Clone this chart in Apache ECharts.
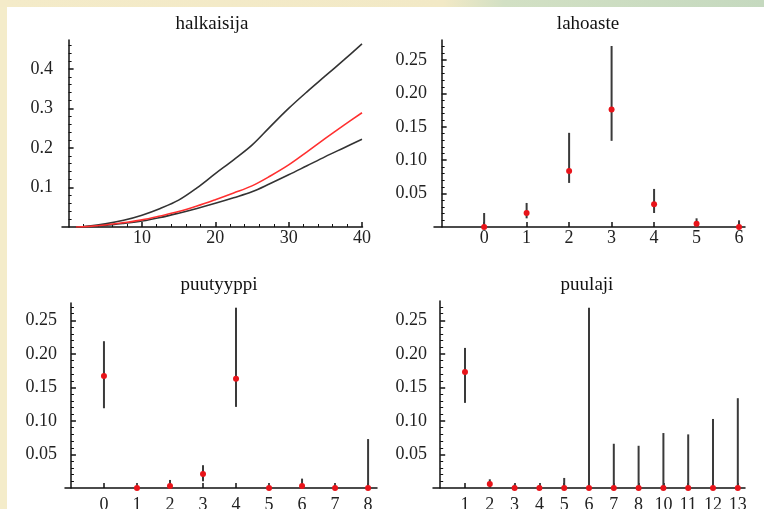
<!DOCTYPE html>
<html><head><meta charset="utf-8">
<script src="https://cdn.jsdelivr.net/npm/echarts@6/dist/echarts.min.js"></script>
<style>
html,body{margin:0;padding:0;}
#bg{position:absolute;left:0;top:0;width:764px;height:509px;background:#f4ecca;}
#topstrip{position:absolute;left:0;top:0;width:764px;height:7px;background:linear-gradient(to right,#f4ebc9 0%,#f2e9c6 58%,#d2e0c4 66%,#c5d9bf 100%);}
#white{position:absolute;left:7px;top:7px;width:757px;height:502px;background:#fff;}
#chart{position:absolute;left:0;top:0;width:764px;height:509px;}
</style></head><body>
<div id="bg"></div><div id="topstrip"></div><div id="white"></div><div id="chart"></div>
<script>
// ---- data ----
const halkX     = [1, 2.5, 5, 7.5, 10, 12.5, 15, 17.5, 20, 22.5, 25, 27.5, 30, 32.5, 35, 37.5, 40];
const halkUpper = [0, 0.002, 0.008, 0.017, 0.030, 0.047, 0.068, 0.099, 0.135, 0.170, 0.207, 0.254, 0.300, 0.342, 0.382, 0.422, 0.463];
const halkMid   = [0, 0.001, 0.005, 0.011, 0.018, 0.028, 0.039, 0.053, 0.069, 0.086, 0.104, 0.129, 0.157, 0.190, 0.224, 0.257, 0.289];
const halkLower = [0, 0.001, 0.004, 0.009, 0.015, 0.024, 0.035, 0.047, 0.060, 0.074, 0.089, 0.110, 0.132, 0.155, 0.178, 0.200, 0.222];
const halkXTicks = [10, 20, 30, 40];
const halkYTicks = [0.1, 0.2, 0.3, 0.4];

const lahoCats = ['0', '1', '2', '3', '4', '5', '6'];
const lahoEst  = [0, 0.021, 0.084, 0.176, 0.034, 0.005, 0];
const lahoLo   = [0, 0.013, 0.066, 0.129, 0.021, 0, 0];
const lahoHi   = [0.021, 0.036, 0.141, 0.271, 0.057, 0.013, 0.010];

const puutCats = ['0', '1', '2', '3', '4', '5', '6', '7', '8'];
const puutEst  = [0.167, 0, 0.003, 0.021, 0.163, 0, 0.003, 0, 0];
const puutLo   = [0.119, 0, 0, 0.010, 0.121, 0, 0, 0, 0];
const puutHi   = [0.219, 0.003, 0.012, 0.034, 0.269, 0.002, 0.014, 0.002, 0.073];

const puulCats = ['1', '2', '3', '4', '5', '6', '7', '8', '10', '11', '12', '13'];
const puulEst  = [0.173, 0.006, 0, 0, 0, 0, 0, 0, 0, 0, 0, 0];
const puulLo   = [0.127, 0, 0, 0, 0, 0, 0, 0, 0, 0, 0, 0];
const puulHi   = [0.209, 0.013, 0.005, 0.004, 0.015, 0.269, 0.066, 0.063, 0.082, 0.080, 0.103, 0.134];

const probYTicks = [0.05, 0.10, 0.15, 0.20, 0.25];
const titles = ['halkaisija', 'lahoaste', 'puutyyppi', 'puulaji'];

// ---- helpers ----
function steps(step, max, skipEvery) {
  const out = [];
  for (let k = 1; k * step <= max + 1e-9; k++) {
    if (skipEvery && k % skipEvery === 0) continue;
    out.push(Math.round(k * step * 1000) / 1000);
  }
  return out;
}
const FONT = 'Liberation Serif';
const LBL = '#222';
const AX = '#111';

const gridPos = [
  {left: 62, right: 401.5, top: 40, bottom: 282},
  {left: 434, right: 19, top: 40, bottom: 282},
  {left: 65, right: 387, top: 303, bottom: 21},
  {left: 433, right: 19, top: 301, bottom: 21}
];
const xRanges = [[-0.9, 40.07], [-0.18, 7.14], [-0.18, 9.27], [-0.29, 12.29]];
const yMax = [0.473, 0.28, 0.276, 0.279];
const xLabelMargin = [2, 2, 8, 8];
const yLabelMargin = [9, 7, 8, 6];
const catsList = [null, lahoCats, puutCats, puulCats];

// grids 0..3: main axes; grids 4..7: same place, minor ticks only
const grids = gridPos.concat(gridPos).map(g => Object.assign({outerBoundsMode: 'none', containLabel: false}, g));
const xAxis = [], yAxis = [], series = [];
function minorAxis(gi, vals, pos, dimMin, dimMax) {
  return {
    type: 'value', gridIndex: gi + 4, min: dimMin, max: dimMax, position: pos,
    axisLine: {show: true, onZero: true, lineStyle: {color: 'rgba(0,0,0,0)', width: 1}},
    axisTick: {show: vals.length > 0, inside: true, length: 3, customValues: vals, lineStyle: {color: AX, width: 1}},
    axisLabel: {show: true, customValues: vals, formatter: () => '', color: 'rgba(0,0,0,0)'},
    splitLine: {show: false}
  };
}
gridPos.forEach((g, gi) => {
  const cats = catsList[gi];
  const majX = cats ? cats.map((c, i) => i + 1) : halkXTicks;
  xAxis[gi] = {
    type: 'value', gridIndex: gi, min: xRanges[gi][0], max: xRanges[gi][1], position: 'bottom',
    axisLine: {show: true, onZero: true, lineStyle: {color: AX, width: 1.5}},
    axisTick: {show: true, inside: true, length: 5, customValues: majX, lineStyle: {color: AX, width: 1.5}},
    axisLabel: {show: true, customValues: majX, margin: xLabelMargin[gi], fontFamily: FONT, fontSize: 18, color: LBL,
      formatter: cats ? (v => cats[Math.round(v) - 1]) : (v => String(v))},
    splitLine: {show: false}
  };
  xAxis[gi + 4] = minorAxis(gi, cats ? [] : steps(2, 40, 5), 'bottom', xRanges[gi][0], xRanges[gi][1]);
  const majY = gi === 0 ? halkYTicks : probYTicks;
  const minY = gi === 0 ? steps(0.02, 0.46, 5) : steps(0.01, yMax[gi] - 0.005, 5);
  yAxis[gi] = {
    type: 'value', gridIndex: gi, min: 0, max: yMax[gi], position: 'left',
    axisLine: {show: true, onZero: true, lineStyle: {color: AX, width: 1.5}},
    axisTick: {show: true, inside: true, length: 5, customValues: majY, lineStyle: {color: AX, width: 1.5}},
    axisLabel: {show: true, customValues: majY, margin: yLabelMargin[gi], fontFamily: FONT, fontSize: 18, color: LBL,
      formatter: v => gi === 0 ? v.toFixed(1) : v.toFixed(2)},
    splitLine: {show: false}
  };
  yAxis[gi + 4] = minorAxis(gi, minY, 'left', 0, yMax[gi]);
});

// halkaisija lines
[[halkUpper, '#333'], [halkLower, '#333'], [halkMid, '#ff3030']].forEach(([arr, col]) => {
  series.push({
    type: 'line', xAxisIndex: 0, yAxisIndex: 0, smooth: 0.35, showSymbol: false, silent: true,
    data: halkX.map((x, i) => [x, arr[i]]),
    lineStyle: {color: col, width: 1.6}, z: col === '#333' ? 2 : 3
  });
});

// error bar panels
const panels = [[lahoEst, lahoLo, lahoHi], [puutEst, puutLo, puutHi], [puulEst, puulLo, puulHi]];
panels.forEach(([est, lo, hi], k) => {
  const gi = k + 1;
  series.push({
    type: 'custom', xAxisIndex: gi, yAxisIndex: gi, silent: true,
    data: lo.map((l, i) => [i + 1, l, hi[i]]),
    encode: {x: 0, y: [1, 2]},
    renderItem: (params, api) => {
      const p1 = api.coord([api.value(0), api.value(1)]);
      const p2 = api.coord([api.value(0), api.value(2)]);
      return {type: 'line', shape: {x1: p1[0], y1: p1[1], x2: p2[0], y2: p2[1]},
        style: {stroke: '#3a3a3a', lineWidth: 2}};
    },
    z: 3
  });
  series.push({
    type: 'scatter', xAxisIndex: gi, yAxisIndex: gi, silent: true,
    data: est.map((v, i) => [i + 1, v]),
    symbolSize: 6, itemStyle: {color: '#e8141a', opacity: 1}, z: 4
  });
});
// dummy invisible series on minor grids so their axes are laid out
for (let gi = 0; gi < 4; gi++) {
  series.push({type: 'line', xAxisIndex: gi + 4, yAxisIndex: gi + 4, data: [], silent: true});
}

const titleX = [212, 588, 219, 587];
const titleY = [15, 15, 276, 276];
const chart = echarts.init(document.getElementById('chart'), null, {renderer: 'canvas'});
chart.setOption({
  backgroundColor: 'transparent',
  animation: false,
  title: titles.map((t, i) => ({
    text: t, left: titleX[i], top: titleY[i], textAlign: 'center', padding: 0,
    textStyle: {fontFamily: FONT, fontSize: 19, fontWeight: 'normal', color: '#111'}
  })),
  grid: grids,
  xAxis: xAxis,
  yAxis: yAxis,
  series: series
});
</script>
</body></html>
